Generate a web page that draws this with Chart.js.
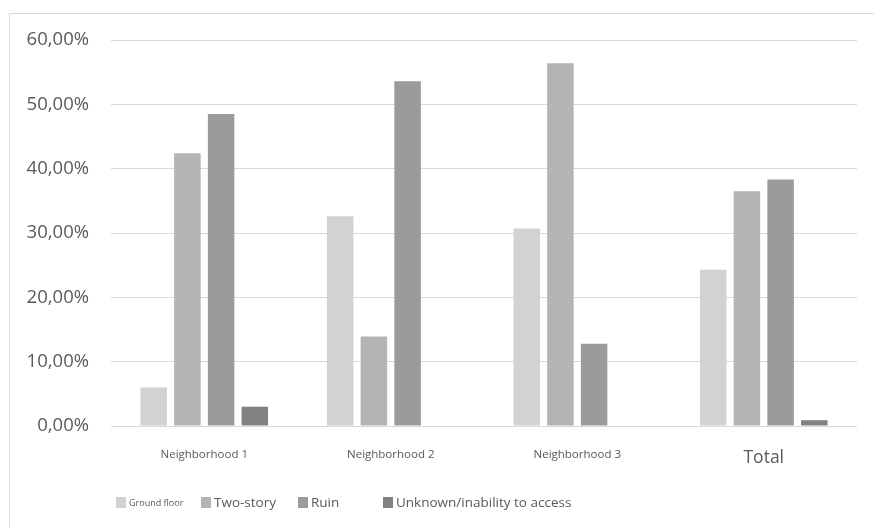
<!DOCTYPE html>
<html>
<head>
<meta charset="utf-8">
<script src="https://cdn.jsdelivr.net/npm/chart.js@4/dist/chart.umd.min.js"></script>
<style>
  html, body { margin: 0; padding: 0; background: #ffffff; }
  #wrap { position: relative; width: 874px; height: 528px; }
</style>
</head>
<body>
<div id="wrap"><canvas id="c" width="874" height="528"></canvas></div>
<script>
const categories = ['Neighborhood 1', 'Neighborhood 2', 'Neighborhood 3', 'Total'];
const seriesNames = ['Ground floor', 'Two-story', 'Ruin', 'Unknown/inability to access'];
const groundFloor = [6.0, 32.6, 30.7, 24.3];
const twoStory = [42.4, 13.9, 56.4, 36.5];
const ruin = [48.5, 53.6, 12.8, 38.3];
const unknownAccess = [3.0, 0, 0, 0.9];
const yTickLabels = ['0,00%', '10,00%', '20,00%', '30,00%', '40,00%', '50,00%', '60,00%'];

const colors = ['#d2d2d2', '#b4b4b4', '#9b9b9b', '#828282'];
const seriesData = [groundFloor, twoStory, ruin, unknownAccess];
const textColor = '#595959';
const fontFamily = '"Open Sans", "Noto Sans", sans-serif';

const frame = {
  id: 'frame',
  beforeDraw(chart) {
    const ctx = chart.ctx;
    ctx.save();
    ctx.fillStyle = '#ffffff';
    ctx.fillRect(0, 0, chart.width, chart.height);
    ctx.strokeStyle = '#d9d9d9';
    ctx.lineWidth = 1;
    ctx.beginPath();
    ctx.moveTo(9.5, chart.height);
    ctx.lineTo(9.5, 13.5);
    ctx.lineTo(chart.width, 13.5);
    ctx.stroke();
    ctx.restore();
  }
};

const legendPos = [116, 201, 298, 383];
const legendSizes = [9, 13.5, 13.5, 13.5];
const customLegend = {
  id: 'customLegend',
  afterDraw(chart) {
    const ctx = chart.ctx;
    ctx.save();
    chart.data.datasets.forEach((ds, i) => {
      const x = legendPos[i];
      const yc = 503;
      ctx.fillStyle = ds.backgroundColor;
      ctx.fillRect(x, yc - 6, 10, 11);
      ctx.fillStyle = textColor;
      ctx.font = legendSizes[i] + 'px ' + fontFamily;
      ctx.textBaseline = 'middle';
      ctx.textAlign = 'left';
      ctx.fillText(ds.label, x + 13, yc);
    });
    ctx.restore();
  }
};

new Chart(document.getElementById('c'), {
  type: 'bar',
  data: {
    labels: categories,
    datasets: seriesNames.map((name, i) => ({
      label: name,
      data: seriesData[i],
      backgroundColor: colors[i],
      borderWidth: 0,
      categoryPercentage: 0.723,
      barPercentage: 0.786
    }))
  },
  options: {
    responsive: false,
    devicePixelRatio: 1,
    animation: false,
    layout: { padding: { top: 40, right: 17, left: 0, bottom: 0 } },
    plugins: {
      legend: { display: false },
      tooltip: { enabled: false },
      title: { display: false }
    },
    scales: {
      x: {
        grid: { display: false, drawTicks: false },
        border: { display: false },
        ticks: {
          color: textColor,
          padding: 22,
          maxRotation: 0,
          autoSkip: false,
          font: (c) => ({ family: fontFamily, size: c.index === 3 ? 17.5 : 11.5 })
        },
        afterFit(scale) { scale.height = 102; }
      },
      y: {
        min: 0,
        max: 60,
        grid: { color: '#d9d9d9', lineWidth: 1, drawTicks: false },
        border: { display: false },
        ticks: {
          stepSize: 10,
          color: textColor,
          padding: 22,
          font: { family: fontFamily, size: 18.5 },
          callback: (v, idx) => yTickLabels[idx]
        },
        afterFit(scale) { scale.width = 111; }
      }
    }
  },
  plugins: [frame, customLegend]
});
</script>
</body>
</html>
